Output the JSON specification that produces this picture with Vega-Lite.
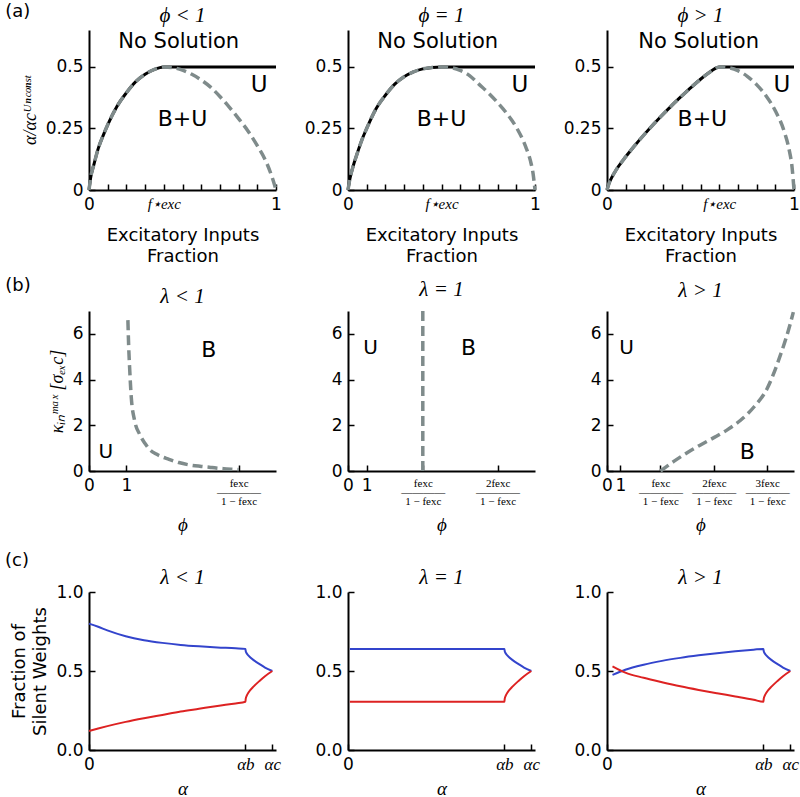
{
"$schema": "https://vega.github.io/schema/vega-lite/v6.json",
"padding": {"left": 4, "top": 3, "right": 0, "bottom": 0},
"config": {
  "view": {"stroke": null},
  "axis": {"domainColor": "black", "domainWidth": 2, "tickColor": "black", "tickWidth": 1.5, "tickSize": -6, "labelPadding": 12, "titlePadding": 6, "labelFont": "DejaVu Sans", "labelFontSize": 17, "labelColor": "black", "titleFont": "DejaVu Sans", "titleFontSize": 18, "titleFontWeight": "normal", "titleColor": "black", "grid": false, "labelOverlap": false, "labelFlush": false, "labelBound": false},
  "title": {"font": "Liberation Serif", "fontSize": 21, "fontStyle": "italic", "fontWeight": "normal", "color": "black", "offset": 0},
  "style": {"group-title": {"fontWeight": "normal"}}
},
"datasets": {
  "rowA_curve": [
    {"panel":"a1","x":0,"y":0},{"panel":"a1","x":0.01,"y":0.055},{"panel":"a1","x":0.025,"y":0.1},{"panel":"a1","x":0.05,"y":0.17},{"panel":"a1","x":0.075,"y":0.22},{"panel":"a1","x":0.1,"y":0.265},{"panel":"a1","x":0.15,"y":0.34},{"panel":"a1","x":0.2,"y":0.395},{"panel":"a1","x":0.25,"y":0.44},{"panel":"a1","x":0.3,"y":0.47},{"panel":"a1","x":0.35,"y":0.49},{"panel":"a1","x":0.4,"y":0.5},{"panel":"a1","x":0.45,"y":0.497},{"panel":"a1","x":0.5,"y":0.487},{"panel":"a1","x":0.55,"y":0.47},{"panel":"a1","x":0.6,"y":0.447},{"panel":"a1","x":0.65,"y":0.418},{"panel":"a1","x":0.7,"y":0.38},{"panel":"a1","x":0.75,"y":0.337},{"panel":"a1","x":0.8,"y":0.29},{"panel":"a1","x":0.85,"y":0.24},{"panel":"a1","x":0.9,"y":0.18},{"panel":"a1","x":0.95,"y":0.11},{"panel":"a1","x":0.98,"y":0.05},{"panel":"a1","x":1,"y":0},
    {"panel":"a2","x":0,"y":0},{"panel":"a2","x":0.01,"y":0.045},{"panel":"a2","x":0.025,"y":0.09},{"panel":"a2","x":0.05,"y":0.15},{"panel":"a2","x":0.075,"y":0.205},{"panel":"a2","x":0.1,"y":0.25},{"panel":"a2","x":0.15,"y":0.33},{"panel":"a2","x":0.2,"y":0.385},{"panel":"a2","x":0.25,"y":0.43},{"panel":"a2","x":0.3,"y":0.46},{"panel":"a2","x":0.35,"y":0.48},{"panel":"a2","x":0.4,"y":0.492},{"panel":"a2","x":0.45,"y":0.498},{"panel":"a2","x":0.5,"y":0.5},{"panel":"a2","x":0.55,"y":0.497},{"panel":"a2","x":0.6,"y":0.486},{"panel":"a2","x":0.65,"y":0.465},{"panel":"a2","x":0.7,"y":0.43},{"panel":"a2","x":0.75,"y":0.395},{"panel":"a2","x":0.8,"y":0.355},{"panel":"a2","x":0.85,"y":0.31},{"panel":"a2","x":0.9,"y":0.255},{"panel":"a2","x":0.95,"y":0.176},{"panel":"a2","x":0.975,"y":0.12},{"panel":"a2","x":0.99,"y":0.065},{"panel":"a2","x":1,"y":0},
    {"panel":"a3","x":0,"y":0},{"panel":"a3","x":0.01,"y":0.025},{"panel":"a3","x":0.025,"y":0.05},{"panel":"a3","x":0.05,"y":0.083},{"panel":"a3","x":0.1,"y":0.135},{"panel":"a3","x":0.15,"y":0.182},{"panel":"a3","x":0.2,"y":0.226},{"panel":"a3","x":0.25,"y":0.268},{"panel":"a3","x":0.3,"y":0.308},{"panel":"a3","x":0.35,"y":0.346},{"panel":"a3","x":0.4,"y":0.382},{"panel":"a3","x":0.45,"y":0.417},{"panel":"a3","x":0.5,"y":0.45},{"panel":"a3","x":0.55,"y":0.479},{"panel":"a3","x":0.575,"y":0.492},{"panel":"a3","x":0.6,"y":0.5},{"panel":"a3","x":0.65,"y":0.497},{"panel":"a3","x":0.7,"y":0.485},{"panel":"a3","x":0.75,"y":0.462},{"panel":"a3","x":0.8,"y":0.428},{"panel":"a3","x":0.85,"y":0.383},{"panel":"a3","x":0.9,"y":0.322},{"panel":"a3","x":0.95,"y":0.232},{"panel":"a3","x":0.975,"y":0.16},{"panel":"a3","x":0.99,"y":0.09},{"panel":"a3","x":1,"y":0}
  ],
  "rowA_bound": [
    {"panel":"a1","x":0,"y":0},{"panel":"a1","x":0.01,"y":0.055},{"panel":"a1","x":0.025,"y":0.1},{"panel":"a1","x":0.05,"y":0.17},{"panel":"a1","x":0.075,"y":0.22},{"panel":"a1","x":0.1,"y":0.265},{"panel":"a1","x":0.15,"y":0.34},{"panel":"a1","x":0.2,"y":0.395},{"panel":"a1","x":0.25,"y":0.44},{"panel":"a1","x":0.3,"y":0.47},{"panel":"a1","x":0.35,"y":0.49},{"panel":"a1","x":0.4,"y":0.5},{"panel":"a1","x":0.5,"y":0.5},{"panel":"a1","x":1,"y":0.5},
    {"panel":"a2","x":0,"y":0},{"panel":"a2","x":0.01,"y":0.045},{"panel":"a2","x":0.025,"y":0.09},{"panel":"a2","x":0.05,"y":0.15},{"panel":"a2","x":0.075,"y":0.205},{"panel":"a2","x":0.1,"y":0.25},{"panel":"a2","x":0.15,"y":0.33},{"panel":"a2","x":0.2,"y":0.385},{"panel":"a2","x":0.25,"y":0.43},{"panel":"a2","x":0.3,"y":0.46},{"panel":"a2","x":0.35,"y":0.48},{"panel":"a2","x":0.4,"y":0.492},{"panel":"a2","x":0.45,"y":0.498},{"panel":"a2","x":0.5,"y":0.5},{"panel":"a2","x":0.6,"y":0.5},{"panel":"a2","x":1,"y":0.5},
    {"panel":"a3","x":0,"y":0},{"panel":"a3","x":0.01,"y":0.025},{"panel":"a3","x":0.025,"y":0.05},{"panel":"a3","x":0.05,"y":0.083},{"panel":"a3","x":0.1,"y":0.135},{"panel":"a3","x":0.15,"y":0.182},{"panel":"a3","x":0.2,"y":0.226},{"panel":"a3","x":0.25,"y":0.268},{"panel":"a3","x":0.3,"y":0.308},{"panel":"a3","x":0.35,"y":0.346},{"panel":"a3","x":0.4,"y":0.382},{"panel":"a3","x":0.45,"y":0.417},{"panel":"a3","x":0.5,"y":0.45},{"panel":"a3","x":0.55,"y":0.479},{"panel":"a3","x":0.575,"y":0.492},{"panel":"a3","x":0.6,"y":0.5},{"panel":"a3","x":0.7,"y":0.5},{"panel":"a3","x":1,"y":0.5}
  ],
  "rowA_text": [
    {"panel":"a1","label":"No Solution","x":0.48,"y":0.6},{"panel":"a1","label":"B+U","x":0.5,"y":0.29},{"panel":"a1","label":"U","x":0.91,"y":0.425},
    {"panel":"a2","label":"No Solution","x":0.48,"y":0.6},{"panel":"a2","label":"B+U","x":0.5,"y":0.29},{"panel":"a2","label":"U","x":0.92,"y":0.425},
    {"panel":"a3","label":"No Solution","x":0.49,"y":0.6},{"panel":"a3","label":"B+U","x":0.51,"y":0.29},{"panel":"a3","label":"U","x":0.935,"y":0.425}
  ],
  "rowB_curve": [
    {"panel":"b1","x":1.04,"y":6.6},{"panel":"b1","x":1.06,"y":5.5},{"panel":"b1","x":1.085,"y":4.56},{"panel":"b1","x":1.13,"y":3.23},{"panel":"b1","x":1.22,"y":2.2},{"panel":"b1","x":1.35,"y":1.62},{"panel":"b1","x":1.5,"y":1.2},{"panel":"b1","x":1.61,"y":0.96},{"panel":"b1","x":1.8,"y":0.74},{"panel":"b1","x":2.14,"y":0.51},{"panel":"b1","x":2.4,"y":0.37},{"panel":"b1","x":2.67,"y":0.27},{"panel":"b1","x":3.0,"y":0.2},{"panel":"b1","x":3.29,"y":0.15},{"panel":"b1","x":3.6,"y":0.1},{"panel":"b1","x":3.9,"y":0.07},{"panel":"b1","x":4.0,"y":0.06},
    {"panel":"b2","x":4,"y":0},{"panel":"b2","x":4,"y":7},
    {"panel":"b3","x":4,"y":0},{"panel":"b3","x":5,"y":0.42},{"panel":"b3","x":6,"y":0.8},{"panel":"b3","x":7,"y":1.14},{"panel":"b3","x":8,"y":1.46},{"panel":"b3","x":9,"y":1.8},{"panel":"b3","x":10,"y":2.22},{"panel":"b3","x":11,"y":2.8},{"panel":"b3","x":12,"y":3.62},{"panel":"b3","x":12.6,"y":4.45},{"panel":"b3","x":13,"y":5.1},{"panel":"b3","x":13.4,"y":5.8},{"panel":"b3","x":13.7,"y":6.4},{"panel":"b3","x":13.95,"y":6.95}
  ],
  "rowB_text": [
    {"panel":"b1","label":"U","x":0.45,"y":0.84},{"panel":"b1","label":"B","x":3.2,"y":5.3},
    {"panel":"b2","label":"U","x":1.2,"y":5.4},{"panel":"b2","label":"B","x":6.44,"y":5.4},
    {"panel":"b3","label":"U","x":1.46,"y":5.4},{"panel":"b3","label":"B","x":10.5,"y":0.84}
  ],
  "rowC": [
    {"panel":"c1","series":"upper","x":0,"y":0.8},{"panel":"c1","series":"upper","x":0.05,"y":0.78},{"panel":"c1","series":"upper","x":0.1,"y":0.757},{"panel":"c1","series":"upper","x":0.2,"y":0.72},{"panel":"c1","series":"upper","x":0.3,"y":0.695},{"panel":"c1","series":"upper","x":0.4,"y":0.678},{"panel":"c1","series":"upper","x":0.5,"y":0.665},{"panel":"c1","series":"upper","x":0.6,"y":0.656},{"panel":"c1","series":"upper","x":0.7,"y":0.649},{"panel":"c1","series":"upper","x":0.8,"y":0.644},{"panel":"c1","series":"upper","x":0.853,"y":0.64},{"panel":"c1","series":"upper","x":0.855,"y":0.625},{"panel":"c1","series":"upper","x":0.86,"y":0.612},{"panel":"c1","series":"upper","x":0.87,"y":0.597},{"panel":"c1","series":"upper","x":0.9,"y":0.567},{"panel":"c1","series":"upper","x":0.93,"y":0.544},{"panel":"c1","series":"upper","x":0.96,"y":0.522},{"panel":"c1","series":"upper","x":1,"y":0.5},
    {"panel":"c1","series":"lower","x":0,"y":0.12},{"panel":"c1","series":"lower","x":0.05,"y":0.136},{"panel":"c1","series":"lower","x":0.1,"y":0.151},{"panel":"c1","series":"lower","x":0.2,"y":0.178},{"panel":"c1","series":"lower","x":0.3,"y":0.201},{"panel":"c1","series":"lower","x":0.4,"y":0.222},{"panel":"c1","series":"lower","x":0.5,"y":0.243},{"panel":"c1","series":"lower","x":0.6,"y":0.261},{"panel":"c1","series":"lower","x":0.7,"y":0.279},{"panel":"c1","series":"lower","x":0.8,"y":0.295},{"panel":"c1","series":"lower","x":0.853,"y":0.305},{"panel":"c1","series":"lower","x":0.855,"y":0.325},{"panel":"c1","series":"lower","x":0.86,"y":0.343},{"panel":"c1","series":"lower","x":0.87,"y":0.364},{"panel":"c1","series":"lower","x":0.9,"y":0.404},{"panel":"c1","series":"lower","x":0.93,"y":0.437},{"panel":"c1","series":"lower","x":0.96,"y":0.467},{"panel":"c1","series":"lower","x":1,"y":0.5},
    {"panel":"c2","series":"upper","x":0.01,"y":0.64},{"panel":"c2","series":"upper","x":0.853,"y":0.64},{"panel":"c2","series":"upper","x":0.855,"y":0.625},{"panel":"c2","series":"upper","x":0.86,"y":0.612},{"panel":"c2","series":"upper","x":0.87,"y":0.597},{"panel":"c2","series":"upper","x":0.9,"y":0.567},{"panel":"c2","series":"upper","x":0.93,"y":0.544},{"panel":"c2","series":"upper","x":0.96,"y":0.522},{"panel":"c2","series":"upper","x":1,"y":0.5},
    {"panel":"c2","series":"lower","x":0.01,"y":0.305},{"panel":"c2","series":"lower","x":0.853,"y":0.305},{"panel":"c2","series":"lower","x":0.855,"y":0.325},{"panel":"c2","series":"lower","x":0.86,"y":0.343},{"panel":"c2","series":"lower","x":0.87,"y":0.364},{"panel":"c2","series":"lower","x":0.9,"y":0.404},{"panel":"c2","series":"lower","x":0.93,"y":0.437},{"panel":"c2","series":"lower","x":0.96,"y":0.467},{"panel":"c2","series":"lower","x":1,"y":0.5},
    {"panel":"c3","series":"upper","x":0.03,"y":0.475},{"panel":"c3","series":"upper","x":0.1,"y":0.508},{"panel":"c3","series":"upper","x":0.2,"y":0.54},{"panel":"c3","series":"upper","x":0.3,"y":0.564},{"panel":"c3","series":"upper","x":0.4,"y":0.583},{"panel":"c3","series":"upper","x":0.5,"y":0.599},{"panel":"c3","series":"upper","x":0.6,"y":0.613},{"panel":"c3","series":"upper","x":0.7,"y":0.625},{"panel":"c3","series":"upper","x":0.8,"y":0.635},{"panel":"c3","series":"upper","x":0.853,"y":0.64},{"panel":"c3","series":"upper","x":0.855,"y":0.625},{"panel":"c3","series":"upper","x":0.86,"y":0.612},{"panel":"c3","series":"upper","x":0.87,"y":0.597},{"panel":"c3","series":"upper","x":0.9,"y":0.567},{"panel":"c3","series":"upper","x":0.93,"y":0.544},{"panel":"c3","series":"upper","x":0.96,"y":0.522},{"panel":"c3","series":"upper","x":1,"y":0.5},
    {"panel":"c3","series":"lower","x":0.03,"y":0.53},{"panel":"c3","series":"lower","x":0.1,"y":0.49},{"panel":"c3","series":"lower","x":0.2,"y":0.457},{"panel":"c3","series":"lower","x":0.3,"y":0.429},{"panel":"c3","series":"lower","x":0.4,"y":0.403},{"panel":"c3","series":"lower","x":0.5,"y":0.38},{"panel":"c3","series":"lower","x":0.6,"y":0.359},{"panel":"c3","series":"lower","x":0.7,"y":0.339},{"panel":"c3","series":"lower","x":0.8,"y":0.318},{"panel":"c3","series":"lower","x":0.853,"y":0.305},{"panel":"c3","series":"lower","x":0.855,"y":0.325},{"panel":"c3","series":"lower","x":0.86,"y":0.343},{"panel":"c3","series":"lower","x":0.87,"y":0.364},{"panel":"c3","series":"lower","x":0.9,"y":0.404},{"panel":"c3","series":"lower","x":0.93,"y":0.437},{"panel":"c3","series":"lower","x":0.96,"y":0.467},{"panel":"c3","series":"lower","x":1,"y":0.5}
  ]
},
"vconcat": [
  {
    "title": {"text": "(a)", "anchor": "start", "font": "DejaVu Sans", "fontSize": 18, "fontStyle": "normal", "fontWeight": "normal", "dx": -16, "dy": 16, "offset": 0},
    "bounds": "flush",
    "spacing": 72,
    "resolve": {"scale": {"x": "independent", "y": "independent", "size": "independent"}},
    "hconcat": [
      {
        "width": 187, "height": 160, "title": {"text": "ϕ < 1", "fontWeight": "normal"},
        "encoding": {
          "x": {"field": "x", "type": "quantitative", "scale": {"domain": [0, 1], "nice": false}, "axis": {"title": ["Excitatory Inputs", "Fraction"], "titleLineHeight": 21, "titlePadding": 14, "values": [0,0.1,0.2,0.3,0.4,0.5,0.6,0.7,0.8,0.9,1], "labelExpr": "datum.value == 0 ? '0' : datum.value == 1 ? '1' : (abs(datum.value - 0.4) < 0.001 ? 'f⋆exc' : '')", "labelFont": {"condition": {"test": "datum.value > 0.01 && datum.value < 0.99", "value": "Liberation Serif"}, "value": "DejaVu Sans"}, "labelFontStyle": {"condition": {"test": "datum.value > 0.01 && datum.value < 0.99", "value": "italic"}, "value": "normal"}, "labelFontSize": {"condition": {"test": "datum.value > 0.01 && datum.value < 0.99", "value": 15}, "value": 17}}},
          "y": {"field": "y", "type": "quantitative", "scale": {"domain": [0, 0.65], "nice": false}, "axis": {"title": "α/αcᵁⁿᶜᵒⁿˢᵗ", "titleFont": "Liberation Serif", "titleFontStyle": "italic", "titleFontSize": 18, "values": [0, 0.25, 0.5], "labelExpr": "'' + datum.value"}}
        },
        "layer": [
          {"data": {"name": "rowA_bound"}, "transform": [{"filter": "datum.panel == 'a1'"}], "mark": {"type": "line", "color": "black", "strokeWidth": 3, "interpolate": "monotone"}},
          {"data": {"name": "rowA_curve"}, "transform": [{"filter": "datum.panel == 'a1'"}], "mark": {"type": "line", "color": "#7f8b8b", "strokeWidth": 3.5, "strokeDash": [10, 5], "interpolate": "monotone"}},
          {"data": {"name": "rowA_text"}, "transform": [{"filter": "datum.panel == 'a1'"}], "mark": {"type": "text", "font": "DejaVu Sans", "color": "black", "baseline": "middle", "align": "center"}, "encoding": {"text": {"field": "label"}, "size": {"field": "label", "type": "nominal", "scale": {"domain": ["No Solution", "B+U", "U"], "range": [21, 23, 19]}, "legend": null}}}
        ]
      },
      {
        "width": 187, "height": 160, "title": {"text": "ϕ = 1", "fontWeight": "normal"},
        "encoding": {
          "x": {"field": "x", "type": "quantitative", "scale": {"domain": [0, 1], "nice": false}, "axis": {"title": ["Excitatory Inputs", "Fraction"], "titleLineHeight": 21, "titlePadding": 14, "values": [0,0.1,0.2,0.3,0.4,0.5,0.6,0.7,0.8,0.9,1], "labelExpr": "datum.value == 0 ? '0' : datum.value == 1 ? '1' : (abs(datum.value - 0.5) < 0.001 ? 'f⋆exc' : '')", "labelFont": {"condition": {"test": "datum.value > 0.01 && datum.value < 0.99", "value": "Liberation Serif"}, "value": "DejaVu Sans"}, "labelFontStyle": {"condition": {"test": "datum.value > 0.01 && datum.value < 0.99", "value": "italic"}, "value": "normal"}, "labelFontSize": {"condition": {"test": "datum.value > 0.01 && datum.value < 0.99", "value": 15}, "value": 17}}},
          "y": {"field": "y", "type": "quantitative", "scale": {"domain": [0, 0.65], "nice": false}, "axis": {"title": null, "values": [0, 0.25, 0.5], "labelExpr": "'' + datum.value"}}
        },
        "layer": [
          {"data": {"name": "rowA_bound"}, "transform": [{"filter": "datum.panel == 'a2'"}], "mark": {"type": "line", "color": "black", "strokeWidth": 3, "interpolate": "monotone"}},
          {"data": {"name": "rowA_curve"}, "transform": [{"filter": "datum.panel == 'a2'"}], "mark": {"type": "line", "color": "#7f8b8b", "strokeWidth": 3.5, "strokeDash": [10, 5], "interpolate": "monotone"}},
          {"data": {"name": "rowA_text"}, "transform": [{"filter": "datum.panel == 'a2'"}], "mark": {"type": "text", "font": "DejaVu Sans", "color": "black", "baseline": "middle", "align": "center"}, "encoding": {"text": {"field": "label"}, "size": {"field": "label", "type": "nominal", "scale": {"domain": ["No Solution", "B+U", "U"], "range": [21, 23, 19]}, "legend": null}}}
        ]
      },
      {
        "width": 187, "height": 160, "title": {"text": "ϕ > 1", "fontWeight": "normal"},
        "encoding": {
          "x": {"field": "x", "type": "quantitative", "scale": {"domain": [0, 1], "nice": false}, "axis": {"title": ["Excitatory Inputs", "Fraction"], "titleLineHeight": 21, "titlePadding": 14, "values": [0,0.1,0.2,0.3,0.4,0.5,0.6,0.7,0.8,0.9,1], "labelExpr": "datum.value == 0 ? '0' : datum.value == 1 ? '1' : (abs(datum.value - 0.6) < 0.001 ? 'f⋆exc' : '')", "labelFont": {"condition": {"test": "datum.value > 0.01 && datum.value < 0.99", "value": "Liberation Serif"}, "value": "DejaVu Sans"}, "labelFontStyle": {"condition": {"test": "datum.value > 0.01 && datum.value < 0.99", "value": "italic"}, "value": "normal"}, "labelFontSize": {"condition": {"test": "datum.value > 0.01 && datum.value < 0.99", "value": 15}, "value": 17}}},
          "y": {"field": "y", "type": "quantitative", "scale": {"domain": [0, 0.65], "nice": false}, "axis": {"title": null, "values": [0, 0.25, 0.5], "labelExpr": "'' + datum.value"}}
        },
        "layer": [
          {"data": {"name": "rowA_bound"}, "transform": [{"filter": "datum.panel == 'a3'"}], "mark": {"type": "line", "color": "black", "strokeWidth": 3, "interpolate": "monotone"}},
          {"data": {"name": "rowA_curve"}, "transform": [{"filter": "datum.panel == 'a3'"}], "mark": {"type": "line", "color": "#7f8b8b", "strokeWidth": 3.5, "strokeDash": [10, 5], "interpolate": "monotone"}},
          {"data": {"name": "rowA_text"}, "transform": [{"filter": "datum.panel == 'a3'"}], "mark": {"type": "text", "font": "DejaVu Sans", "color": "black", "baseline": "middle", "align": "center"}, "encoding": {"text": {"field": "label"}, "size": {"field": "label", "type": "nominal", "scale": {"domain": ["No Solution", "B+U", "U"], "range": [21, 23, 19]}, "legend": null}}}
        ]
      }
    ]
  },
  {
    "title": {"text": "(b)", "anchor": "start", "font": "DejaVu Sans", "fontSize": 18, "fontStyle": "normal", "fontWeight": "normal", "dx": -43, "dy": 16, "offset": 0},
    "bounds": "flush",
    "spacing": 72,
    "resolve": {"scale": {"x": "independent", "y": "independent", "size": "independent"}},
    "hconcat": [
      {
        "width": 187, "height": 160, "title": {"text": "λ < 1", "fontWeight": "normal"},
        "encoding": {
          "x": {"field": "x", "type": "quantitative", "scale": {"domain": [0, 5], "nice": false}, "axis": {"title": "ϕ", "titleFont": "Liberation Serif", "titleFontStyle": "italic", "titleFontSize": 19, "titlePadding": 9, "values": [0, 1, 4], "labelLineHeight": 9, "labelExpr": "datum.value == 0 ? '0' : datum.value == 1 ? '1' : ['fexc', '————', '1 − fexc']", "labelFont": {"condition": {"test": "datum.value >= 4", "value": "Liberation Serif"}, "value": "DejaVu Sans"}, "labelFontSize": {"condition": {"test": "datum.value >= 4", "value": 11}, "value": 17}}},
          "y": {"field": "y", "type": "quantitative", "scale": {"domain": [0, 7], "nice": false}, "axis": {"title": "κᵢₙᵐᵃˣ [σₑₓc]", "titleFont": "Liberation Serif", "titleFontStyle": "italic", "titleFontSize": 18, "values": [0, 2, 4, 6]}}
        },
        "layer": [
          {"data": {"name": "rowB_curve"}, "transform": [{"filter": "datum.panel == 'b1'"}], "mark": {"type": "line", "color": "#7f8b8b", "strokeWidth": 3.5, "strokeDash": [10, 5], "interpolate": "monotone"}},
          {"data": {"name": "rowB_text"}, "transform": [{"filter": "datum.panel == 'b1'"}], "mark": {"type": "text", "font": "DejaVu Sans", "color": "black", "baseline": "middle", "align": "center"}, "encoding": {"text": {"field": "label"}, "size": {"field": "label", "type": "nominal", "scale": {"domain": ["U", "B"], "range": [20, 22]}, "legend": null}}}
        ]
      },
      {
        "width": 187, "height": 160, "title": {"text": "λ = 1", "fontWeight": "normal"},
        "encoding": {
          "x": {"field": "x", "type": "quantitative", "scale": {"domain": [0, 10], "nice": false}, "axis": {"title": "ϕ", "titleFont": "Liberation Serif", "titleFontStyle": "italic", "titleFontSize": 19, "titlePadding": 9, "values": [0, 1, 4, 8], "labelLineHeight": 9, "labelExpr": "datum.value == 0 ? '0' : datum.value == 1 ? '1' : datum.value == 4 ? ['fexc', '————', '1 − fexc'] : ['2fexc', '————', '1 − fexc']", "labelFont": {"condition": {"test": "datum.value >= 4", "value": "Liberation Serif"}, "value": "DejaVu Sans"}, "labelFontSize": {"condition": {"test": "datum.value >= 4", "value": 11}, "value": 17}}},
          "y": {"field": "y", "type": "quantitative", "scale": {"domain": [0, 7], "nice": false}, "axis": {"title": null, "values": [0, 2, 4, 6]}}
        },
        "layer": [
          {"data": {"name": "rowB_curve"}, "transform": [{"filter": "datum.panel == 'b2'"}], "mark": {"type": "line", "color": "#7f8b8b", "strokeWidth": 3.5, "strokeDash": [10, 5]}},
          {"data": {"name": "rowB_text"}, "transform": [{"filter": "datum.panel == 'b2'"}], "mark": {"type": "text", "font": "DejaVu Sans", "color": "black", "baseline": "middle", "align": "center"}, "encoding": {"text": {"field": "label"}, "size": {"field": "label", "type": "nominal", "scale": {"domain": ["U", "B"], "range": [20, 22]}, "legend": null}}}
        ]
      },
      {
        "width": 187, "height": 160, "title": {"text": "λ > 1", "fontWeight": "normal"},
        "encoding": {
          "x": {"field": "x", "type": "quantitative", "scale": {"domain": [0, 14], "nice": false}, "axis": {"title": "ϕ", "titleFont": "Liberation Serif", "titleFontStyle": "italic", "titleFontSize": 19, "titlePadding": 9, "values": [0, 1, 4, 8, 12], "labelLineHeight": 9, "labelExpr": "datum.value == 0 ? '0' : datum.value == 1 ? '1' : datum.value == 4 ? ['fexc', '————', '1 − fexc'] : datum.value == 8 ? ['2fexc', '————', '1 − fexc'] : ['3fexc', '————', '1 − fexc']", "labelFont": {"condition": {"test": "datum.value >= 4", "value": "Liberation Serif"}, "value": "DejaVu Sans"}, "labelFontSize": {"condition": {"test": "datum.value >= 4", "value": 11}, "value": 17}}},
          "y": {"field": "y", "type": "quantitative", "scale": {"domain": [0, 7], "nice": false}, "axis": {"title": null, "values": [0, 2, 4, 6]}}
        },
        "layer": [
          {"data": {"name": "rowB_curve"}, "transform": [{"filter": "datum.panel == 'b3'"}], "mark": {"type": "line", "color": "#7f8b8b", "strokeWidth": 3.5, "strokeDash": [10, 5], "interpolate": "monotone"}},
          {"data": {"name": "rowB_text"}, "transform": [{"filter": "datum.panel == 'b3'"}], "mark": {"type": "text", "font": "DejaVu Sans", "color": "black", "baseline": "middle", "align": "center"}, "encoding": {"text": {"field": "label"}, "size": {"field": "label", "type": "nominal", "scale": {"domain": ["U", "B"], "range": [20, 22]}, "legend": null}}}
        ]
      }
    ]
  },
  {
    "title": {"text": "(c)", "anchor": "start", "font": "DejaVu Sans", "fontSize": 18, "fontStyle": "normal", "fontWeight": "normal", "dx": -6, "dy": 3, "offset": 0},
    "bounds": "flush",
    "spacing": 72,
    "resolve": {"scale": {"x": "independent", "y": "independent", "color": "independent"}},
    "hconcat": [
      {
        "width": 187, "height": 158, "title": {"text": "λ < 1", "fontWeight": "normal", "offset": -5},
        "data": {"name": "rowC"},
        "transform": [{"filter": "datum.panel == 'c1'"}],
        "mark": {"type": "line", "strokeWidth": 2, "interpolate": "monotone"},
        "encoding": {
          "x": {"field": "x", "type": "quantitative", "scale": {"domain": [0, 1.02], "nice": false}, "axis": {"title": "α", "titleFont": "Liberation Serif", "titleFontStyle": "italic", "titleFontSize": 19, "titlePadding": 7, "values": [0, 0.853, 1], "labelExpr": "datum.value == 0 ? '0' : datum.value == 1 ? 'αc' : 'αb'", "labelFont": {"condition": {"test": "datum.value > 0", "value": "Liberation Serif"}, "value": "DejaVu Sans"}, "labelFontStyle": {"condition": {"test": "datum.value > 0", "value": "italic"}, "value": "normal"}}},
          "y": {"field": "y", "type": "quantitative", "scale": {"domain": [0, 1], "nice": false}, "axis": {"title": ["Fraction of", "Silent Weights"], "titleLineHeight": 21, "values": [0, 0.5, 1], "format": ".1f"}},
          "color": {"field": "series", "type": "nominal", "scale": {"domain": ["upper", "lower"], "range": ["#3344cc", "#dd2222"]}, "legend": null}
        }
      },
      {
        "width": 187, "height": 158, "title": {"text": "λ = 1", "fontWeight": "normal", "offset": -5},
        "data": {"name": "rowC"},
        "transform": [{"filter": "datum.panel == 'c2'"}],
        "mark": {"type": "line", "strokeWidth": 2, "interpolate": "monotone"},
        "encoding": {
          "x": {"field": "x", "type": "quantitative", "scale": {"domain": [0, 1.02], "nice": false}, "axis": {"title": "α", "titleFont": "Liberation Serif", "titleFontStyle": "italic", "titleFontSize": 19, "titlePadding": 7, "values": [0, 0.853, 1], "labelExpr": "datum.value == 0 ? '0' : datum.value == 1 ? 'αc' : 'αb'", "labelFont": {"condition": {"test": "datum.value > 0", "value": "Liberation Serif"}, "value": "DejaVu Sans"}, "labelFontStyle": {"condition": {"test": "datum.value > 0", "value": "italic"}, "value": "normal"}}},
          "y": {"field": "y", "type": "quantitative", "scale": {"domain": [0, 1], "nice": false}, "axis": {"title": null, "values": [0, 0.5, 1], "format": ".1f"}},
          "color": {"field": "series", "type": "nominal", "scale": {"domain": ["upper", "lower"], "range": ["#3344cc", "#dd2222"]}, "legend": null}
        }
      },
      {
        "width": 187, "height": 158, "title": {"text": "λ > 1", "fontWeight": "normal", "offset": -5},
        "data": {"name": "rowC"},
        "transform": [{"filter": "datum.panel == 'c3'"}],
        "mark": {"type": "line", "strokeWidth": 2, "interpolate": "monotone"},
        "encoding": {
          "x": {"field": "x", "type": "quantitative", "scale": {"domain": [0, 1.02], "nice": false}, "axis": {"title": "α", "titleFont": "Liberation Serif", "titleFontStyle": "italic", "titleFontSize": 19, "titlePadding": 7, "values": [0, 0.853, 1], "labelExpr": "datum.value == 0 ? '0' : datum.value == 1 ? 'αc' : 'αb'", "labelFont": {"condition": {"test": "datum.value > 0", "value": "Liberation Serif"}, "value": "DejaVu Sans"}, "labelFontStyle": {"condition": {"test": "datum.value > 0", "value": "italic"}, "value": "normal"}}},
          "y": {"field": "y", "type": "quantitative", "scale": {"domain": [0, 1], "nice": false}, "axis": {"title": null, "values": [0, 0.5, 1], "format": ".1f"}},
          "color": {"field": "series", "type": "nominal", "scale": {"domain": ["upper", "lower"], "range": ["#3344cc", "#dd2222"]}, "legend": null}
        }
      }
    ]
  }
],
"spacing": 281,
"bounds": "flush",
"resolve": {"scale": {"x": "independent", "y": "independent", "size": "independent", "color": "independent"}}
}
